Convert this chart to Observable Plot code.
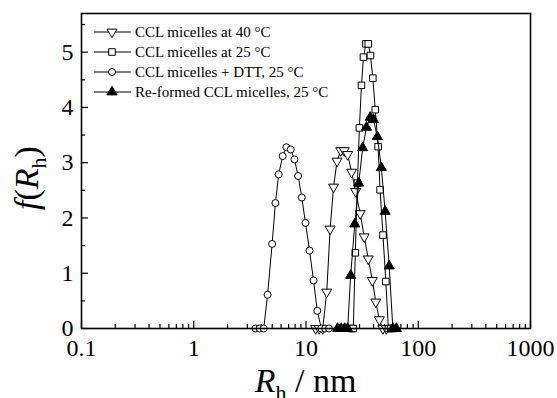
<!DOCTYPE html>
<html>
<head>
<meta charset="utf-8">
<script src="https://cdn.jsdelivr.net/npm/d3@7"></script>
<script src="https://cdn.jsdelivr.net/npm/@observablehq/plot@0.6"></script>
<style>
  html, body { margin: 0; padding: 0; background: white; }
  #chart svg { display: block; }
</style>
</head>
<body>
<div id="chart"></div>
<script>
// ---- Data (R_h in nm, f(R_h)) ----
const tri40X = [12.2,13.1,14.1,15.3,16.4,17.6,18.9,20.4,21.9,23.5,25.5,27.7,30.4,33.0,35.9,39.0,41.9,45.0,48.4,52.0];
const tri40Y = [0,0,0,0.66,1.80,2.56,3.03,3.22,3.22,3.15,2.83,2.48,2.08,1.66,1.26,0.87,0.48,0.16,0,0];

const sq25X = [25.3,26.4,27.5,28.7,29.9,31.2,32.5,34.2,35.9,37.5,39.4,41.4,43.9,45.7,48.5,51.4,54.2,57.0,60.1];
const sq25Y = [0,0,1.37,2.63,3.63,4.40,4.91,5.15,5.15,4.94,4.53,3.96,3.29,2.51,1.69,0.85,0,0,0];

const dttX = [3.55,3.86,4.2,4.55,4.99,5.34,5.71,6.20,6.69,7.31,7.89,8.51,9.17,9.90,10.75,11.67,12.60,13.7,14.8,16.0];
const dttY = [0,0,0,0.61,1.53,2.27,2.79,3.12,3.28,3.24,3.06,2.76,2.37,1.91,1.41,0.87,0.32,0,0,0];

const refX = [19.1,20.6,22.1,23.5,25.0,27.2,29.5,32.0,34.6,37.3,39.9,43.2,46.9,50.7,55.1,59.4,63.9];
const refY = [0,0,0,0,0.96,1.89,2.63,3.27,3.64,3.82,3.78,3.47,2.91,2.12,1.13,0,0];

const seriesLabels = [
  "CCL micelles at 40 °C",
  "CCL micelles at 25 °C",
  "CCL micelles + DTT, 25 °C",
  "Re-formed CCL micelles, 25 °C"
];

const xMajorTicks = [0.1, 1, 10, 100, 1000];
const xTickLabels = ["0.1", "1", "10", "100", "1000"];
const yMajorTicks = [0, 1, 2, 3, 4, 5];
const yMinorTicks = [0.5, 1.5, 2.5, 3.5, 4.5, 5.5];
const xMinorTicks = [0.1, 1, 10, 100].flatMap(d => [2,3,4,5,6,7,8,9].map(k => +(d * k).toPrecision(3)));

// ---- Custom down-pointing triangle symbol ----
const sqrt3 = Math.sqrt(3);
const triangleDown = {
  draw(context, size) {
    const y = -Math.sqrt(size / (sqrt3 * 3));
    context.moveTo(0, -y * 2);
    context.lineTo(-sqrt3 * y, y);
    context.lineTo(sqrt3 * y, y);
    context.closePath();
  }
};

const toRows = (xs, ys) => xs.map((x, i) => ({x, y: ys[i]}));
const s40 = toRows(tri40X, tri40Y);
const s25 = toRows(sq25X, sq25Y);
const sDTT = toRows(dttX, dttY);
const sRef = toRows(refX, refY);

const W = 557, H = 398, mt = 13, mb = 70, ml = 81, mr = 27;
const fw = W - ml - mr, fh = H - mt - mb;
const serif = "'Liberation Serif', 'Times New Roman', Times, serif";

const lineOpts = {x: "x", y: "y", stroke: "black", strokeWidth: 1};

const chart = Plot.plot({
  width: W, height: H,
  marginTop: mt, marginBottom: mb, marginLeft: ml, marginRight: mr,
  style: {fontFamily: serif, fontSize: "24px", color: "black", background: "white"},
  x: {type: "log", domain: [0.1, 1000], ticks: xMajorTicks,
      tickFormat: d => xTickLabels[xMajorTicks.indexOf(d)] ?? "", tickSize: 0, tickPadding: 10, label: null},
  y: {domain: [0, 5.7], ticks: yMajorTicks, tickFormat: d => String(d), tickSize: 0, tickPadding: 8, label: null},
  marks: [
    // inward ticks
    Plot.tickX(xMajorTicks, {x: d => d, insetTop: fh - 7, stroke: "black", strokeWidth: 1.2}),
    Plot.tickX(xMinorTicks, {x: d => d, insetTop: fh - 4, stroke: "black", strokeWidth: 1.2}),
    Plot.tickY(yMajorTicks, {y: d => d, insetRight: fw - 7, stroke: "black", strokeWidth: 1.2}),
    Plot.tickY(yMinorTicks, {y: d => d, insetRight: fw - 4, stroke: "black", strokeWidth: 1.2}),
    // 40 C (open down triangles)
    Plot.line(s40, lineOpts),
    Plot.dot(s40, {x: "x", y: "y", symbol: triangleDown, r: 3.7, fill: "white", stroke: "black", strokeWidth: 1}),
    // 25 C (open squares)
    Plot.line(s25, lineOpts),
    Plot.dot(s25, {x: "x", y: "y", symbol: "square", r: 3.7, fill: "white", stroke: "black", strokeWidth: 1}),
    // DTT (open circles)
    Plot.line(sDTT, lineOpts),
    Plot.dot(sDTT, {x: "x", y: "y", symbol: "circle", r: 3.5, fill: "white", stroke: "black", strokeWidth: 1}),
    // re-formed (filled up triangles)
    Plot.line(sRef, lineOpts),
    Plot.dot(sRef, {x: "x", y: "y", symbol: "triangle", r: 3.7, fill: "black", stroke: "black", strokeWidth: 1}),
    Plot.frame({stroke: "black", strokeWidth: 1.6})
  ]
});
document.getElementById("chart").appendChild(chart);

// ---- Axis titles with italics and subscripts ----
const svg = d3.select(chart);
const yl = svg.append("text")
  .attr("transform", "translate(38,178) rotate(-90)")
  .attr("text-anchor", "middle")
  .style("font-family", serif).style("font-size", "34px").attr("fill", "black");
yl.append("tspan").style("font-style", "italic").text("f");
yl.append("tspan").text("(");
yl.append("tspan").style("font-style", "italic").text("R");
yl.append("tspan").style("font-size", "22px").attr("dy", 8).text("h");
yl.append("tspan").attr("dy", -8).text(")");

const xl = svg.append("text")
  .attr("x", ml + fw / 2).attr("y", 392)
  .attr("text-anchor", "middle")
  .style("font-family", serif).style("font-size", "34px").attr("fill", "black");
xl.append("tspan").style("font-style", "italic").text("R");
xl.append("tspan").style("font-size", "22px").attr("dy", 8).text("h");
xl.append("tspan").attr("dy", -8).text(" / nm");

// ---- Legend (inside plot, top-left) ----
const legSymbols = [
  {type: triangleDown, fill: "white"},
  {type: d3.symbolSquare, fill: "white"},
  {type: d3.symbolCircle, fill: "white"},
  {type: d3.symbolTriangle, fill: "black"}
];
const lg = svg.append("g");
seriesLabels.forEach((lab, i) => {
  const y = 32 + i * 20;
  lg.append("line").attr("x1", 94).attr("x2", 131).attr("y1", y).attr("y2", y)
    .attr("stroke", "black").attr("stroke-width", 1);
  const r = i === 2 ? 3.5 : 3.7;
  lg.append("path")
    .attr("d", d3.symbol().type(legSymbols[i].type).size(Math.PI * r * r)())
    .attr("transform", `translate(112,${y})`)
    .attr("fill", legSymbols[i].fill).attr("stroke", "black").attr("stroke-width", 1);
  lg.append("text").attr("x", 135).attr("y", y + 5)
    .attr("text-anchor", "start")
    .style("font-family", serif).style("font-size", "15px").attr("fill", "black")
    .text(lab);
});
</script>
</body>
</html>
